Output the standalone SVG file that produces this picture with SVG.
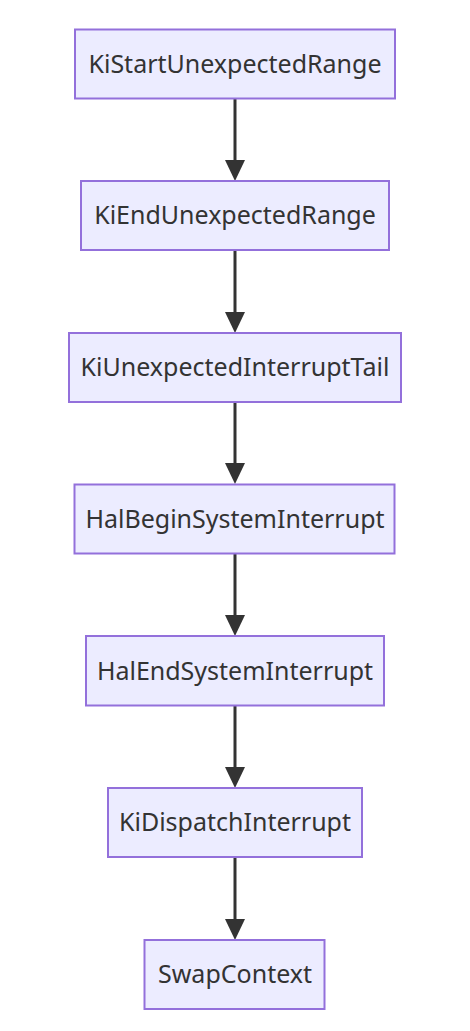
<svg xmlns="http://www.w3.org/2000/svg" width="470" height="1031" viewBox="0 0 470 1031">
<style>
.node rect{fill:#ECECFF;stroke:#9370DB;stroke-width:2}
.node text{font-family:"Noto Sans","Open Sans",sans-serif;font-size:25px;fill:#333;text-anchor:middle}
.edge{stroke:#333;stroke-width:3;fill:none}
.head{fill:#333}
</style>
<rect width="470" height="1031" fill="#fff"/>
<g id="edges">
<line class="edge" x1="235" y1="99" x2="235" y2="162"/><path class="head" d="M225,160 L245,160 L235,181 Z"/>
<line class="edge" x1="235" y1="250" x2="235" y2="314"/><path class="head" d="M225,312 L245,312 L235,333 Z"/>
<line class="edge" x1="235" y1="402" x2="235" y2="465"/><path class="head" d="M225,463 L245,463 L235,484 Z"/>
<line class="edge" x1="235" y1="553" x2="235" y2="617"/><path class="head" d="M225,615 L245,615 L235,636 Z"/>
<line class="edge" x1="235" y1="705" x2="235" y2="769"/><path class="head" d="M225,767 L245,767 L235,788 Z"/>
<line class="edge" x1="235" y1="857" x2="235" y2="921"/><path class="head" d="M225,919 L245,919 L235,940 Z"/>
</g>
<g id="n1" class="node"><rect x="75" y="29.5" width="320" height="69"/><text x="235" y="73">KiStartUnexpectedRange</text></g>
<g id="n2" class="node"><rect x="81" y="181" width="308" height="69"/><text x="235" y="224">KiEndUnexpectedRange</text></g>
<g id="n3" class="node"><rect x="69" y="333" width="332" height="69"/><text x="235" y="376">KiUnexpectedInterruptTail</text></g>
<g id="n4" class="node"><rect x="74.5" y="484.5" width="320" height="69"/><text x="235" y="528">HalBeginSystemInterrupt</text></g>
<g id="n5" class="node"><rect x="86" y="636" width="298" height="69.5"/><text x="235" y="680">HalEndSystemInterrupt</text></g>
<g id="n6" class="node"><rect x="108" y="788" width="254" height="69"/><text x="235" y="831">KiDispatchInterrupt</text></g>
<g id="n7" class="node"><rect x="144.5" y="940" width="180" height="69"/><text x="235" y="983">SwapContext</text></g>
</svg>
